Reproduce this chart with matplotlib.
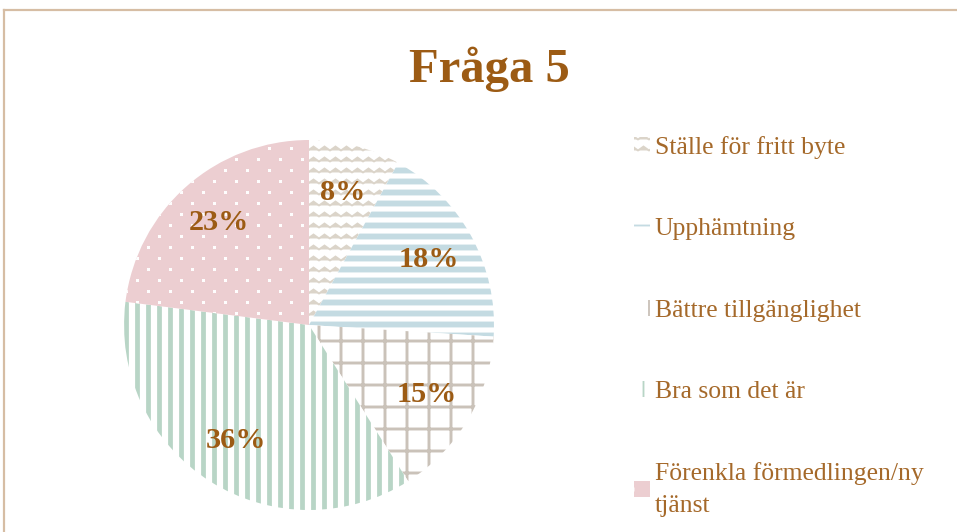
import warnings
import numpy as np
import matplotlib
matplotlib.use('Agg')
import matplotlib.pyplot as plt
import matplotlib.hatch as mhatch
from matplotlib.path import Path
from matplotlib.lines import Line2D

warnings.filterwarnings('ignore')

# data
labels = ['Ställe för fritt byte', 'Upphämtning', 'Bättre tillgänglighet',
          'Bra som det är', 'Förenkla förmedlingen/ny\ntjänst']
values = [8, 18, 15, 36, 23]
title = 'Fråga 5'

# style per wedge: face, pattern colour, hatch, hatch width
faces = ['white', 'white', 'white', 'white', '#ecced1']
pattern_cols = ['#dbd4c9', '#c4dbe2', '#cac2b9', '#b8d5c6', 'white']
hatches = ['zz', '--', '+', '||', 'dd']
hatch_lw = [1.0, 3.2, 1.6, 2.6, 0.5]

brown = '#9c5b14'
legend_brown = '#a5692a'


# extra hatch patterns: zigzag rows and small staggered square dots
class Zigzag(mhatch.HatchPatternBase):
    def __init__(self, hatch, density):
        self.num_rows = hatch.count('z') * density
        self.teeth = self.num_rows
        self.num_vertices = self.num_rows * (2 * self.teeth + 1)

    def set_vertices_and_codes(self, vertices, codes):
        n = 2 * self.teeth + 1
        xs = np.linspace(0, 1, n)
        amp = 0.18 / self.num_rows
        sign = np.where(np.arange(n) % 2 == 0, -1, 1)
        for i in range(self.num_rows):
            y0 = (i + 0.5) / self.num_rows
            vertices[i * n:(i + 1) * n, 0] = xs
            vertices[i * n:(i + 1) * n, 1] = y0 + amp * sign
            codes[i * n] = Path.MOVETO
            codes[i * n + 1:(i + 1) * n] = Path.LINETO


class SquareDots(mhatch.HatchPatternBase):
    filled = True

    def __init__(self, hatch, density):
        self.num_rows = hatch.count('d') * density
        self.num_cols = self.num_rows // 2
        self.num_vertices = self.num_rows * self.num_cols * 5

    def set_vertices_and_codes(self, vertices, codes):
        s = 0.008
        sq = np.array([[-s, -s], [s, -s], [s, s], [-s, s], [-s, -s]])
        k = 0
        for i in range(self.num_rows):
            y = (i + 0.5) / self.num_rows
            for j in range(self.num_cols):
                x = (j + 0.25 + 0.5 * (i % 2)) / self.num_cols
                vertices[k:k + 5] = sq + [x, y]
                codes[k] = Path.MOVETO
                codes[k + 1:k + 4] = Path.LINETO
                codes[k + 4] = Path.CLOSEPOLY
                k += 5


mhatch._hatch_types.append(Zigzag)
mhatch._hatch_types.append(SquareDots)

dpi = 132
W, H = 957, 532
fig = plt.figure(figsize=(W / dpi, H / dpi), dpi=dpi)
fig.patch.set_facecolor('white')

# frame lines (top and left)
border = '#d6bda4'
fig.add_artist(Line2D([4 / W, 1], [1 - 10 / H, 1 - 10 / H], color=border, lw=1.2))
fig.add_artist(Line2D([4 / W, 4 / W], [0, 1 - 10 / H], color=border, lw=1.2))

fig.text(489 / W, 1 - 69 / H, title, ha='center', va='center',
         fontsize=26.5, fontweight='bold', family='Liberation Serif', color=brown)

cx, cy, r = 309, 325, 185
ax = fig.add_axes([(cx - r) / W, (H - cy - r) / H, 2 * r / W, 2 * r / H])
wedges, texts, autotexts = ax.pie(
    values, startangle=90, counterclock=False, radius=1,
    autopct='%1.0f%%', pctdistance=0.74,
    textprops=dict(family='Liberation Serif', fontweight='bold',
                   fontsize=16.5, color=brown))
for w, fc, pc, h, lw in zip(wedges, faces, pattern_cols, hatches, hatch_lw):
    w.set_facecolor(fc)
    w.set_edgecolor(pc)
    w.set_linewidth(0)
    w.set_hatch(h)
    if hasattr(w, 'set_hatch_linewidth'):
        w.set_hatch_linewidth(lw)
ax.set_xlim(-1, 1)
ax.set_ylim(-1, 1)
ax.set_aspect('equal')
ax.axis('off')

leg = fig.legend(wedges, labels, loc='upper left',
                 bbox_to_anchor=(624 / W, 1 - 126 / H), frameon=False,
                 prop=dict(family='Liberation Serif', size=14),
                 labelspacing=2.3, handlelength=0.6, handleheight=0.6,
                 handletextpad=0.2, borderaxespad=0)
for t in leg.get_texts():
    t.set_color(legend_brown)
    t.set_linespacing(1.6)

fig.savefig('out.png', dpi=dpi)
